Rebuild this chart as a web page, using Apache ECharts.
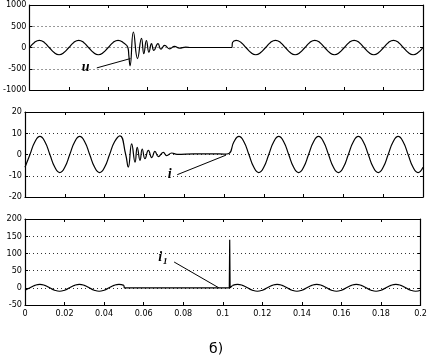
<!DOCTYPE html>
<html>
<head>
<meta charset="utf-8">
<script src="https://cdn.jsdelivr.net/npm/echarts@6/dist/echarts.min.js"></script>
<style>
  html, body { margin: 0; padding: 0; background: #fff; }
  #chart { width: 430px; height: 363px; }
</style>
</head>
<body>
<div id="chart"></div>
<script>
// tick labels
var xTicks = [0, 0.02, 0.04, 0.06, 0.08, 0.1, 0.12, 0.14, 0.16, 0.18, 0.2];
var uTicks = [-1000, -500, 0, 500, 1000];
var iTicks = [-20, -10, 0, 10, 20];
var i1Ticks = [-50, 0, 50, 100, 150, 200];

// voltage u
var uTime = [0, 0.0025, 0.005, 0.0075, 0.01, 0.0125, 0.015, 0.0175, 0.02, 0.0225, 0.025, 0.0275, 0.03, 0.0325, 0.035, 0.0375, 0.04, 0.0425, 0.045, 0.0475, 0.05,
  0.0505, 0.0511, 0.0528, 0.0549, 0.0569, 0.0581, 0.0594, 0.0607, 0.062, 0.0632, 0.0653, 0.0668, 0.0687, 0.0712, 0.0737, 0.0762, 0.0794, 0.082, 0.09, 0.1, 0.1028, 0.1032,
  0.105, 0.1075, 0.11, 0.1125, 0.115, 0.1175, 0.12, 0.1225, 0.125, 0.1275, 0.13, 0.1325, 0.135, 0.1375, 0.14, 0.1425, 0.145, 0.1475, 0.15, 0.1525,
  0.155, 0.1575, 0.16, 0.1625, 0.165, 0.1675, 0.17, 0.1725, 0.175, 0.1775, 0.18, 0.1825, 0.185, 0.1875, 0.19, 0.1925, 0.195, 0.1975, 0.2];
var uVal = [0, 120, 170, 120, 0, -120, -170, -120, 0, 120, 170, 120, 0, -120, -170, -120, 0, 120, 170, 120, 0,
  -200, -430, 365, -260, 215, -145, 165, -110, 90, -70, 90, -40, 50, -30, 25, -15, 10, 0, 0, 0, 0, 120,
  170, 120, 0, -120, -170, -120, 0, 120, 170, 120, 0, -120, -170, -120, 0, 120,
  170, 120, 0, -120, -170, -120, 0, 120, 170, 120, 0, -120, -170, -120, 0, 120,
  170, 120, 0, -120, -170, -120, 0];

// current i
var iTime = [0, 0.0025, 0.005, 0.0075, 0.01, 0.0125, 0.015, 0.0175, 0.02, 0.0225, 0.025, 0.0275, 0.03, 0.0325, 0.035, 0.0375, 0.04, 0.0425, 0.045,
  0.0477, 0.0506, 0.0519, 0.0536, 0.0553, 0.0564, 0.0578, 0.0589, 0.0603, 0.062, 0.0637, 0.0653, 0.067, 0.0695, 0.0712, 0.0737, 0.0764, 0.085, 0.095, 0.1, 0.1025,
  0.105, 0.1075, 0.11, 0.1125, 0.115, 0.1175, 0.12, 0.1225, 0.125, 0.1275, 0.13, 0.1325, 0.135, 0.1375, 0.14, 0.1425, 0.145, 0.1475, 0.15, 0.1525,
  0.155, 0.1575, 0.16, 0.1625, 0.165, 0.1675, 0.17, 0.1725, 0.175, 0.1775, 0.18, 0.1825, 0.185, 0.1875, 0.19, 0.1925, 0.195, 0.1975, 0.2];
var iVal = [-6, 0, 6, 8.5, 6, 0, -6, -8.5, -6, 0, 6, 8.5, 6, 0, -6, -8.5, -6, 0, 6,
  8.8, 0, -5.9, 5, -3.6, 3.4, -2.8, 2.6, -2, 1.9, -1.5, 1.5, -1, 1, -0.5, 0.7, 0.1, 0.3, 0.3, 0.2, 0.5,
  6, 8.5, 6, 0, -6, -8.5, -6, 0, 6, 8.5, 6, 0, -6, -8.5, -6, 0, 6, 8.5, 6, 0,
  -6, -8.5, -6, 0, 6, 8.5, 6, 0, -6, -8.5, -6, 0, 6, 8.5, 6, 0, -6, -8.5, -6];

// current i1 : before, gap + spike, after
var i1TimeA = [0, 0.0025, 0.005, 0.0075, 0.01, 0.0125, 0.015, 0.0175, 0.02, 0.0225, 0.025, 0.0275, 0.03, 0.0325, 0.035, 0.0375, 0.04, 0.0425, 0.045, 0.0475, 0.05];
var i1ValA = [-7, 0, 7, 10, 7, 0, -7, -10, -7, 0, 7, 10, 7, 0, -7, -10, -7, 0, 7, 10, 7];
var i1TimeB = [0.05, 0.0502, 0.1033, 0.1035, 0.1037, 0.105];
var i1ValB = [7, 0, 0, 140, 0, 7];
var i1TimeC = [0.105, 0.1075, 0.11, 0.1125, 0.115, 0.1175, 0.12, 0.1225, 0.125, 0.1275, 0.13, 0.1325, 0.135, 0.1375, 0.14, 0.1425, 0.145, 0.1475, 0.15, 0.1525,
  0.155, 0.1575, 0.16, 0.1625, 0.165, 0.1675, 0.17, 0.1725, 0.175, 0.1775, 0.18, 0.1825, 0.185, 0.1875, 0.19, 0.1925, 0.195, 0.1975, 0.2];
var i1ValC = [7, 10, 7, 0, -7, -10, -7, 0, 7, 10, 7, 0, -7, -10, -7, 0, 7, 10, 7, 0,
  -7, -10, -7, 0, 7, 10, 7, 0, -7, -10, -7, 0, 7, 10, 7, 0, -7, -10, -7];

var tickFont = "'Liberation Sans Narrow', 'DejaVu Sans Condensed', sans-serif";
var grids = [
  { left: 25, top: 5, width: 398, height: 85 },
  { left: 25, top: 112, width: 398, height: 85 },
  { left: 25, top: 219, width: 398, height: 86 }
];
var yRanges = [uTicks, iTicks, i1Ticks];

function pairs(t, v) {
  return t.map(function (x, k) { return [x, v[k]]; });
}
function plain(v) { return String(v); }

var xAxes = [], yAxes = [];
for (var g = 0; g < 3; g++) {
  ["bottom", "top"].forEach(function (pos) {
    xAxes.push({
      type: "value", gridIndex: g, position: pos,
      min: xTicks[0], max: xTicks[xTicks.length - 1], interval: 0.02,
      axisLine: { show: true, onZero: false, lineStyle: { color: "#000", width: 1.2 } },
      axisTick: { show: true, inside: true, length: 3, lineStyle: { color: "#000" } },
      axisLabel: { show: pos === "bottom" && g === 2, color: "#000", fontSize: 9, fontFamily: tickFont, margin: 4, formatter: plain },
      splitLine: { show: false }
    });
  });
  var tk = yRanges[g];
  ["left", "right"].forEach(function (pos) {
    yAxes.push({
      type: "value", gridIndex: g, position: pos,
      min: tk[0], max: tk[tk.length - 1], interval: tk[1] - tk[0],
      axisLine: { show: true, onZero: false, lineStyle: { color: "#000", width: 1.2 } },
      axisTick: { show: true, inside: true, length: 3, lineStyle: { color: "#000" } },
      axisLabel: { show: pos === "left", color: "#000", fontSize: 9, fontFamily: tickFont, margin: 3, formatter: plain },
      splitLine: { show: pos === "left", lineStyle: { color: "#333", width: 1, type: [1, 3] } }
    });
  });
}

var lineBase = {
  type: "line", showSymbol: false, symbol: "none",
  lineStyle: { color: "#000", width: 1.2 }, z: 3
};
var labelFont = { color: "#000", fontSize: 14, fontStyle: "italic", fontWeight: "bold", fontFamily: "'Liberation Serif', serif" };

function pointer(from, to) {
  return {
    silent: true, symbol: ["none", "none"], animation: false,
    label: { show: false },
    lineStyle: { color: "#000", width: 1, type: "solid" },
    data: [[{ coord: from }, { coord: to }]]
  };
}
function tag(at, text) {
  return {
    silent: true, symbol: "circle", symbolSize: 1,
    itemStyle: { color: "rgba(0,0,0,0)" },
    label: Object.assign({ show: true, position: "inside", formatter: text,
      rich: { s: { fontSize: 9, fontStyle: "italic", fontWeight: "bold", fontFamily: "'Liberation Serif', serif", padding: [8, 0, 0, 1] } } }, labelFont),
    data: [{ coord: at }]
  };
}

var option = {
  animation: false,
  backgroundColor: "#fff",
  title: { text: "б)", left: 204, top: 337, textStyle: { fontSize: 14, fontWeight: "normal", color: "#000", fontFamily: "'DejaVu Sans', sans-serif" } },
  grid: grids,
  xAxis: xAxes,
  yAxis: yAxes,
  series: [
    Object.assign({}, lineBase, {
      xAxisIndex: 0, yAxisIndex: 0, smooth: 0.5, data: pairs(uTime, uVal),
      markLine: pointer([0.0342, -480], [0.0513, -260]),
      markPoint: tag([0.0285, -470], "u")
    }),
    Object.assign({}, lineBase, {
      xAxisIndex: 2, yAxisIndex: 2, smooth: 0.5, data: pairs(iTime, iVal),
      markLine: pointer([0.0765, -9.5], [0.101, -0.3]),
      markPoint: tag([0.0727, -9.3], "i")
    }),
    Object.assign({}, lineBase, {
      xAxisIndex: 4, yAxisIndex: 4, smooth: 0.5, data: pairs(i1TimeA, i1ValA),
      markLine: pointer([0.0754, 75], [0.098, 0]),
      markPoint: tag([0.0697, 88], "i{s|1}")
    }),
    Object.assign({}, lineBase, { xAxisIndex: 4, yAxisIndex: 4, smooth: false, data: pairs(i1TimeB, i1ValB) }),
    Object.assign({}, lineBase, { xAxisIndex: 4, yAxisIndex: 4, smooth: 0.5, data: pairs(i1TimeC, i1ValC) })
  ]
};

var chart = echarts.init(document.getElementById("chart"), null, { renderer: "canvas" });
chart.setOption(option);
</script>
</body>
</html>
